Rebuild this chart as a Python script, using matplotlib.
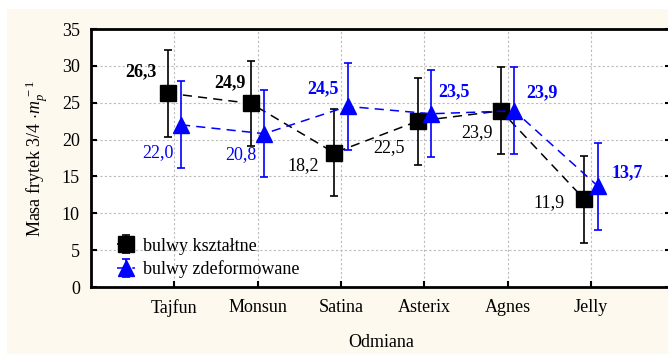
import matplotlib.pyplot as plt
import numpy as np
from matplotlib.patches import Rectangle

# data
varieties = ['Tajfun', 'Monsun', 'Satina', 'Asterix', 'Agnes', 'Jelly']
shaped = [26.3, 24.9, 18.2, 22.5, 23.9, 11.9]          # bulwy ksztaltne
shaped_err = [5.9, 5.8, 5.9, 5.9, 5.9, 5.9]
deformed = [22.0, 20.8, 24.5, 23.5, 23.9, 13.7]        # bulwy zdeformowane
deformed_err = [5.9, 5.9, 5.9, 5.9, 5.9, 5.9]

plt.rcParams['font.family'] = ['Liberation Serif', 'DejaVu Serif']
plt.rcParams['mathtext.fontset'] = 'custom'
plt.rcParams['mathtext.rm'] = 'Liberation Serif'
plt.rcParams['mathtext.it'] = 'Liberation Serif:italic'

W, H = 668, 354
fig = plt.figure(figsize=(W / 100, H / 100), dpi=100, facecolor='white')
bg = Rectangle((7 / W, 0), 1, 1 - 9 / H, transform=fig.transFigure,
               facecolor='#fef9ee', edgecolor='none', zorder=-10)
fig.add_artist(bg)

ax = fig.add_axes([91 / W, 1 - 287 / H, (671 - 91) / W, (287 - 29) / H])
ax.set_facecolor('white')

ind = np.arange(len(varieties))
off = 0.08

ax.errorbar(ind - off, shaped, yerr=shaped_err, color='black', marker='s', markersize=11,
            linestyle=(0, (6, 4)), linewidth=1.1, elinewidth=1.2, capsize=3, capthick=1.2,
            label='bulwy kształtne', zorder=3)
ax.errorbar(ind + off, deformed, yerr=deformed_err, color='#0000ff', marker='^', markersize=12,
            linestyle=(0, (6, 4)), linewidth=1.1, elinewidth=1.2, capsize=3, capthick=1.2,
            label='bulwy zdeformowane', zorder=4)

# value labels: (offset in pixels, bold?)
shaped_lab = [((-27, 21), True), ((-21, 21), True), ((-31, -13), False),
              ((-29, -26), False), ((-24, -22), False), ((-35, -3), False)]
deformed_lab = [((-23, -28), False), ((-23, -21), False), ((-25, 18), True),
                ((23, 22), True), ((28, 18), True), ((30, 13), True)]
for i in ind:
    (dx, dy), b = shaped_lab[i]
    ax.annotate(f'{shaped[i]:.1f}'.replace('.', ','), (ind[i] - off, shaped[i]),
                xytext=(dx, dy), textcoords='offset pixels', ha='center', va='center',
                fontsize=13, fontweight='bold' if b else 'normal', color='black', zorder=5)
    (dx, dy), b = deformed_lab[i]
    ax.annotate(f'{deformed[i]:.1f}'.replace('.', ','), (ind[i] + off, deformed[i]),
                xytext=(dx, dy), textcoords='offset pixels', ha='center', va='center',
                fontsize=13, fontweight='bold' if b else 'normal', color='#0000ff', zorder=5)

ax.set_xlim(-1, 5.96)
ax.set_ylim(0, 35)
ax.set_xticks(ind)
ax.set_xticklabels(varieties)
ax.set_yticks(np.arange(0, 36, 5))
ax.grid(True, linestyle=(0, (2, 2)), color='#bbbbbb', linewidth=0.8)
ax.set_axisbelow(True)
for s in ax.spines.values():
    s.set_linewidth(2)
ax.tick_params(direction='in', length=4, width=1.5, labelsize=13, right=True)
ax.tick_params(axis='x', pad=9)
ax.tick_params(axis='y', pad=8)
ax.set_xlabel('Odmiana', fontsize=13, labelpad=12)
ax.set_ylabel(r'Masa frytek 3/4 $\cdot m_p^{\,-1}$', fontsize=13, labelpad=8)

ax.legend(loc='lower left', bbox_to_anchor=(0.045, 0.035), frameon=False, fontsize=13,
          handlelength=1.0, handletextpad=0.45, labelspacing=0.3, borderaxespad=0,
          borderpad=0)

fig.savefig('out.png', dpi=100, facecolor=fig.get_facecolor())
